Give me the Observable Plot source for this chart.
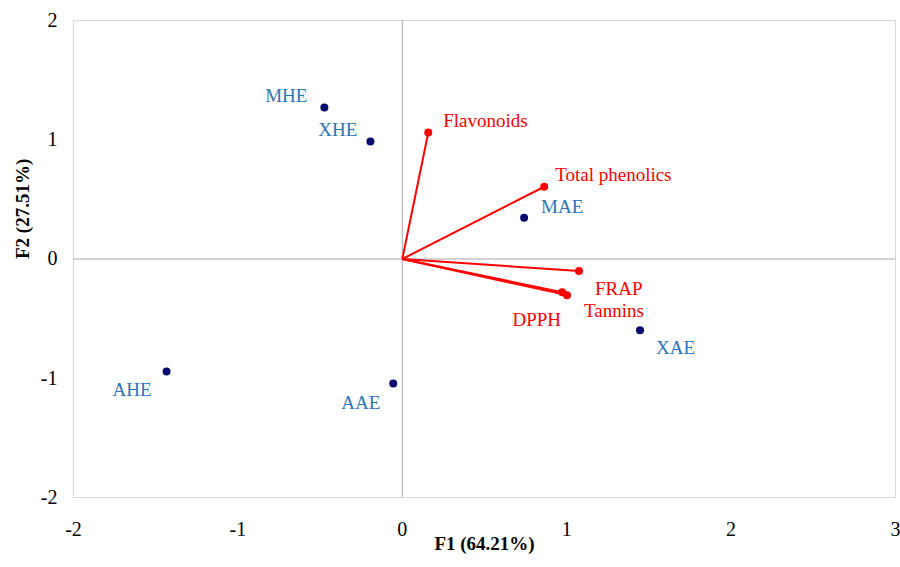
<!DOCTYPE html>
<html><head><meta charset="utf-8">
<script src="https://cdn.jsdelivr.net/npm/d3@7"></script>
<script src="https://cdn.jsdelivr.net/npm/@observablehq/plot@0.6"></script>
<style>body{margin:0;background:#fff}</style>
</head><body><div id="chart"></div>
<script>
// Observations (scores)
const obsNames = ["MHE", "XHE", "MAE", "XAE", "AHE", "AAE"];
const obsF1 = [-0.474, -0.194, 0.741, 1.446, -1.434, -0.055];
const obsF2 = [1.27, 0.985, 0.345, -0.598, -0.943, -1.044];
// Variables (loadings)
const varNames = ["Flavonoids", "Total phenolics", "FRAP", "DPPH", "Tannins"];
const varF1 = [0.158, 0.863, 1.075, 0.972, 1.002];
const varF2 = [1.061, 0.606, -0.101, -0.278, -0.303];
// Tick labels
const xTicks = [-2, -1, 0, 1, 2, 3];
const yTicks = [-2, -1, 0, 1, 2];
const xLabel = "F1 (64.21%)";
const yLabel = "F2 (27.51%)";

// Label placement (styling only)
const obsLabelPos = [
  {dx: -17, dy: -12, anchor: "end"},
  {dx: -13, dy: -12, anchor: "end"},
  {dx: 17, dy: -11, anchor: "start"},
  {dx: 16, dy: 18, anchor: "start"},
  {dx: -15, dy: 18, anchor: "end"},
  {dx: -13, dy: 19, anchor: "end"}
];
const varLabelPos = [
  {dx: 15, dy: -12, anchor: "start"},
  {dx: 11, dy: -12, anchor: "start"},
  {dx: 16, dy: 18, anchor: "start"},
  {dx: -1, dy: 28, anchor: "end"},
  {dx: 17, dy: 16, anchor: "start"}
];

const obs = obsNames.map((n, i) => ({name: n, x: obsF1[i], y: obsF2[i], ...obsLabelPos[i]}));
const vars = varNames.map((n, i) => ({name: n, x: varF1[i], y: varF2[i], ...varLabelPos[i]}));

const font = "'Liberation Serif', 'Times New Roman', serif";
const blue = "#2E75B6";
const red = "#FF0000";
const navy = "#0A0A6E";

const labelMarks = (data, color) => ["start", "end"].flatMap(anchor =>
  data.filter(d => d.anchor === anchor).map(d =>
    Plot.text([d], {x: "x", y: "y", text: "name", dx: d.dx, dy: d.dy, textAnchor: anchor,
      fill: color, fontSize: 19, fontFamily: font})
  ));

const chart = Plot.plot({
  width: 900,
  height: 567,
  marginLeft: 73,
  marginRight: 5,
  marginTop: 20,
  marginBottom: 70,
  style: {fontFamily: font, fontSize: "19px", color: "#000", background: "#fff"},
  x: {domain: [-2, 3]},
  y: {domain: [-2, 2]},
  marks: [
    Plot.frame({stroke: "#d9d9d9"}),
    Plot.ruleX([0], {stroke: "#a6a6a6", strokeWidth: 1}),
    Plot.ruleY([0], {stroke: "#a6a6a6", strokeWidth: 1}),
    Plot.axisX(xTicks, {tickSize: 0, tickPadding: 24, tickFormat: d => String(d), label: null, fontSize: 20}),
    Plot.axisY(yTicks, {tickSize: 0, tickPadding: 16, tickFormat: d => String(d), label: null, fontSize: 20}),
    Plot.link(vars, {x1: () => 0, y1: () => 0, x2: "x", y2: "y", stroke: red, strokeWidth: 2}),
    Plot.dot(vars, {x: "x", y: "y", r: 4, fill: red}),
    Plot.dot(obs, {x: "x", y: "y", r: 4, fill: navy}),
    ...labelMarks(obs, blue),
    ...labelMarks(vars, red),
    Plot.text([xLabel], {frameAnchor: "bottom", dy: 52, text: d => d, fontWeight: "bold", fontSize: 19, fontFamily: font}),
    Plot.text([yLabel], {frameAnchor: "left", dx: -51, rotate: -90, text: d => d, fontWeight: "bold", fontSize: 19, fontFamily: font})
  ]
});
document.getElementById("chart").appendChild(chart);
</script>
</body></html>
